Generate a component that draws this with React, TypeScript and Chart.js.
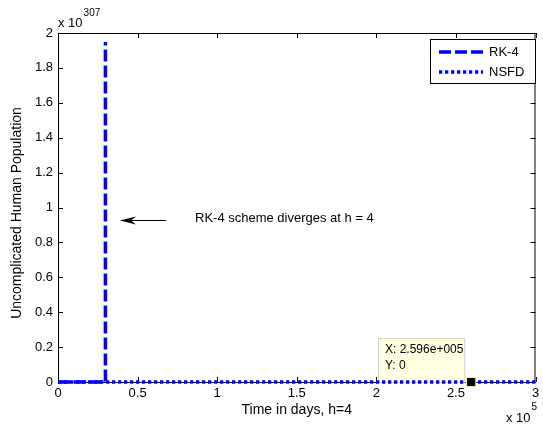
import React, { useEffect, useRef } from "react";
import { Chart, registerables } from "chart.js";

Chart.register(...registerables);

// Data (x in units of 1e5 days, y in units of 1e307)
const rk4X = [0, 0.298, 0.298];
const rk4Y = [0, 0, 1.948];
const nsfdX = [0, 3];
const nsfdY = [0, 0];
const tipX = [2.596];
const tipY = [0];
const xTicks = [0, 0.5, 1, 1.5, 2, 2.5, 3];
const xTickLabels = ["0", "0.5", "1", "1.5", "2", "2.5", "3"];
const yTicks = [0, 0.2, 0.4, 0.6, 0.8, 1, 1.2, 1.4, 1.6, 1.8, 2];
const yTickLabels = ["0", "0.2", "0.4", "0.6", "0.8", "1", "1.2", "1.4", "1.6", "1.8", "2"];
const seriesNames = ["RK-4", "NSFD"];
const xTitle = "Time in days, h=4";
const yTitle = "Uncomplicated Human Population";
const xExp = "5";
const yExp = "307";
const annotationText = "RK-4 scheme diverges at h = 4";
const tipLines = ["X: 2.596e+005", "Y: 0"];

const FONT = "'Liberation Sans', Arial, sans-serif";
const BLUE = "#0000ff";

const overlay = {
  id: "matlabOverlay",
  beforeDatasetsDraw(chart: any) {
    const ctx = chart.ctx;
    const { left, right, top, bottom } = chart.chartArea;
    const xs = chart.scales.x;
    const ys = chart.scales.y;
    ctx.save();
    ctx.strokeStyle = "#000";
    ctx.lineWidth = 1;
    ctx.strokeRect(left + 0.5, top + 0.5, right - left - 1, bottom - top);
    const tl = 5;
    ctx.beginPath();
    xTicks.forEach((v) => {
      const px = Math.round(xs.getPixelForValue(v)) + 0.5;
      ctx.moveTo(px, bottom);
      ctx.lineTo(px, bottom - tl);
      ctx.moveTo(px, top);
      ctx.lineTo(px, top + tl);
    });
    yTicks.forEach((v) => {
      const py = Math.round(ys.getPixelForValue(v)) + 0.5;
      ctx.moveTo(left, py);
      ctx.lineTo(left + tl, py);
      ctx.moveTo(right, py);
      ctx.lineTo(right - tl, py);
    });
    ctx.stroke();

    // data tip box (behind the marker)
    const px = xs.getPixelForValue(tipX[0]);
    const py = ys.getPixelForValue(tipY[0]);
    const bx = 378, by = 338, bw = px - 7 - bx, bh = py - by;
    ctx.fillStyle = "#ffffe1";
    ctx.fillRect(bx, by, bw, bh);
    ctx.strokeStyle = "#d6d6c0";
    ctx.strokeRect(bx + 0.5, by + 0.5, bw, bh);
    ctx.fillStyle = "#000";
    ctx.textBaseline = "middle";
    ctx.textAlign = "left";
    ctx.font = `12px ${FONT}`;
    ctx.fillText(tipLines[0], 385, 350);
    ctx.fillText(tipLines[1], 385, 366);
    ctx.restore();
  },
  afterDatasetsDraw(chart: any) {
    const ctx = chart.ctx;
    const { left, right } = chart.chartArea;
    ctx.save();
    ctx.fillStyle = "#000";
    ctx.textBaseline = "middle";

    // axis titles
    ctx.font = `14px ${FONT}`;
    ctx.textAlign = "center";
    ctx.fillText(xTitle, (left + right) / 2, 410);
    ctx.save();
    ctx.translate(17, 213);
    ctx.rotate(-Math.PI / 2);
    ctx.fillText(yTitle, 0, 0);
    ctx.restore();

    // exponent labels
    ctx.textAlign = "left";
    ctx.font = `13px ${FONT}`;
    ctx.fillText("x 10", 58, 23);
    const w1 = ctx.measureText("x 10").width;
    ctx.font = `10px ${FONT}`;
    ctx.fillText(yExp, 58 + w1 + 1, 13);
    ctx.font = `13px ${FONT}`;
    ctx.fillText("x 10", 506, 418);
    const w2 = ctx.measureText("x 10").width;
    ctx.font = `10px ${FONT}`;
    ctx.fillText(xExp, 506 + w2 + 1, 407);

    // annotation arrow & text
    const ay = 220.5;
    ctx.strokeStyle = "#000";
    ctx.lineWidth = 1;
    ctx.beginPath();
    ctx.moveTo(166, ay);
    ctx.lineTo(121, ay);
    ctx.stroke();
    ctx.beginPath();
    ctx.moveTo(120, ay);
    ctx.lineTo(136, ay - 4);
    ctx.lineTo(131, ay);
    ctx.lineTo(136, ay + 4);
    ctx.closePath();
    ctx.fill();
    ctx.font = `13px ${FONT}`;
    ctx.fillText(annotationText, 195, 218);

    // legend
    const lx = 430, ly = 39, lw = 105, lh = 44;
    ctx.fillStyle = "#fff";
    ctx.fillRect(lx, ly, lw, lh);
    ctx.strokeStyle = "#000";
    ctx.lineWidth = 1;
    ctx.strokeRect(lx + 0.5, ly + 0.5, lw, lh);
    chart.data.datasets.slice(0, 2).forEach((ds: any, i: number) => {
      const yy = 52 + i * 20;
      ctx.strokeStyle = ds.borderColor;
      ctx.lineWidth = ds.borderWidth;
      ctx.setLineDash(ds.borderDash);
      ctx.beginPath();
      ctx.moveTo(439, yy);
      ctx.lineTo(483, yy);
      ctx.stroke();
      ctx.setLineDash([]);
      ctx.fillStyle = "#000";
      ctx.font = `13px ${FONT}`;
      ctx.fillText(seriesNames[i], 489, yy);
    });
    ctx.restore();
  },
};

export default function App() {
  const ref = useRef<HTMLCanvasElement | null>(null);
  useEffect(() => {
    document.body.style.margin = "0";
    const canvas = ref.current!;
    const chart = new Chart(canvas, {
      type: "line",
      data: {
        datasets: [
          {
            label: seriesNames[0],
            data: rk4X.map((x, i) => ({ x, y: rk4Y[i] })),
            borderColor: BLUE,
            borderWidth: 3.5,
            borderDash: [12, 4],
            borderCapStyle: "butt",
            pointRadius: 0,
            fill: false,
            tension: 0,
            clip: false,
            order: 1,
          },
          {
            label: seriesNames[1],
            data: nsfdX.map((x, i) => ({ x, y: nsfdY[i] })),
            borderColor: BLUE,
            borderWidth: 3.5,
            borderDash: [3.3, 2.7],
            borderCapStyle: "butt",
            pointRadius: 0,
            fill: false,
            tension: 0,
            clip: false,
            order: 2,
          },
          {
            label: "tip",
            data: tipX.map((x, i) => ({ x, y: tipY[i] })),
            showLine: false,
            pointStyle: "rect",
            pointRadius: 6.5,
            backgroundColor: "#000",
            borderColor: "#ffffb0",
            borderWidth: 1,
            clip: false,
            order: 0,
          },
        ],
      } as any,
      options: {
        animation: false,
        responsive: false,
        events: [],
        layout: { padding: { left: 0, top: 33, right: 3, bottom: 0 } },
        plugins: { legend: { display: false }, tooltip: { enabled: false } },
        scales: {
          x: {
            type: "linear",
            min: 0,
            max: 3,
            grid: { display: false, drawTicks: false },
            border: { display: false },
            ticks: {
              padding: 4,
              color: "#000",
              font: { family: FONT, size: 13 },
              autoSkip: false,
              maxRotation: 0,
              callback: (_v: any, i: number) => xTickLabels[i],
            },
            afterBuildTicks: (s: any) => {
              s.ticks = xTicks.map((v) => ({ value: v }));
            },
            afterFit: (s: any) => {
              s.height = 43;
              s.paddingLeft = 0;
              s.paddingRight = 0;
            },
          },
          y: {
            type: "linear",
            min: 0,
            max: 2,
            grid: { display: false, drawTicks: false },
            border: { display: false },
            ticks: {
              padding: 5,
              color: "#000",
              font: { family: FONT, size: 13 },
              autoSkip: false,
              callback: (_v: any, i: number) => yTickLabels[i],
            },
            afterBuildTicks: (s: any) => {
              s.ticks = yTicks.map((v) => ({ value: v }));
            },
            afterFit: (s: any) => {
              s.width = 58;
              s.paddingTop = 0;
              s.paddingBottom = 0;
            },
          },
        },
      } as any,
      plugins: [overlay],
    });
    return () => chart.destroy();
  }, []);
  return (
    <canvas
      ref={ref}
      width={543}
      height={425}
      style={{ display: "block", width: 543, height: 425 }}
    />
  );
}
